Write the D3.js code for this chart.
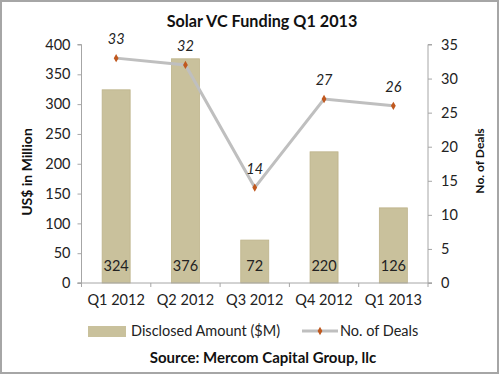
<!DOCTYPE html>
<html><head><meta charset="utf-8">
<script src="https://cdn.jsdelivr.net/npm/d3@7"></script>
<style>body{margin:0;background:#fff}svg{display:block}</style>
</head><body>
<script>
const categories = ["Q1 2012","Q2 2012","Q3 2012","Q4 2012","Q1 2013"];
const amounts = [324, 376, 72, 220, 126];
const deals = [33, 32, 14, 27, 26];
const leftTicks = [0,50,100,150,200,250,300,350,400];
const rightTicks = [0,5,10,15,20,25,30,35];

(function(){
const W = 500, H = 375;
const font = "Lato, 'Open Sans', sans-serif";
const fs = 14.5;
const svg = d3.select("body").append("svg").attr("width", W).attr("height", H);
svg.append("rect").attr("x",1).attr("y",1).attr("width",W-3).attr("height",H-3)
  .attr("fill","#fff").attr("stroke","#a6a6a6").attr("stroke-width",2);

const pL = 81.5, pR = 428, pT = 44.5, pB = 283;
const xb = d3.scaleBand().domain(categories).range([pL, pR]);
const yL = d3.scaleLinear().domain([0,400]).range([pB, pT]);
const yR = d3.scaleLinear().domain([0,35]).range([pB, pT]);

// bars
svg.selectAll(".bar").data(amounts).enter().append("rect")
  .attr("x",(d,i)=>xb(categories[i]) + xb.bandwidth()/2 - 14)
  .attr("width",28)
  .attr("y",d=>yL(d)).attr("height",d=>pB-yL(d))
  .attr("fill","#c9c19c").attr("stroke","#bdb38a").attr("stroke-width",0.8);
svg.selectAll(".blab").data(amounts).enter().append("text")
  .attr("x",(d,i)=>xb(categories[i]) + xb.bandwidth()/2)
  .attr("y",271).attr("text-anchor","middle")
  .attr("font-family",font).attr("font-size",fs).attr("fill","#222").text(d=>d);

// axes
const axL = svg.append("g").attr("transform",`translate(${pL},0)`)
  .call(d3.axisLeft(yL).tickValues(leftTicks).tickSize(4).tickPadding(7));
const axR = svg.append("g").attr("transform",`translate(${pR},0)`)
  .call(d3.axisRight(yR).tickValues(rightTicks).tickSize(4).tickPadding(9));
const axB = svg.append("g").attr("transform",`translate(0,${pB})`)
  .call(d3.axisBottom(xb).tickSize(0).tickPadding(12));
svg.selectAll(".bt").data(d3.range(categories.length+1)).enter().append("line")
  .attr("x1",i=>pL + i*xb.bandwidth()).attr("x2",i=>pL + i*xb.bandwidth())
  .attr("y1",pB).attr("y2",pB+4).attr("stroke","#a6a6a6");
[axL,axR,axB].forEach(a=>{
  a.selectAll("path,line").attr("stroke","#a6a6a6");
  a.selectAll("text").attr("font-family",font).attr("font-size",fs).attr("fill","#222");
});
axL.select(".domain").attr("d",`M-4,${pT}H0V${pB}H-4`);
axR.select(".domain").attr("d",`M4,${pT}H0V${pB}H4`);
axB.select(".domain").attr("d",`M${pL-4},0H${pR+4}`);

// line
const cx = (d,i)=>xb(categories[i]) + xb.bandwidth()/2;
const line = d3.line().x(cx).y(d=>yR(d));
svg.append("path").datum(deals).attr("d",line).attr("fill","none")
  .attr("stroke","#bfbfbf").attr("stroke-width",3);
const sym = d3.symbol().type(d3.symbolDiamond).size(20);
svg.selectAll(".pt").data(deals).enter().append("path").attr("d",sym)
  .attr("transform",(d,i)=>`translate(${cx(d,i)},${yR(d)})`).attr("fill","#c0581e");
svg.selectAll(".plab").data(deals).enter().append("text")
  .attr("x",cx).attr("y",d=>yR(d)-14).attr("text-anchor","middle")
  .attr("font-family",font).attr("font-size",fs).attr("font-style","italic").attr("fill","#222").text(d=>d);

// titles
svg.append("text").attr("x",262).attr("y",27).attr("text-anchor","middle")
  .attr("font-family",font).attr("font-size",16.2).attr("font-weight","bold").attr("fill","#111")
  .text("Solar VC Funding Q1 2013");
svg.append("text").attr("transform",`translate(32,172) rotate(-90)`).attr("text-anchor","middle")
  .attr("font-family",font).attr("font-size",14).attr("font-weight","bold").attr("fill","#111").text("US$ in Million");
svg.append("text").attr("transform",`translate(484,161) rotate(-90)`).attr("text-anchor","middle")
  .attr("font-family",font).attr("font-size",12).attr("font-weight","bold").attr("fill","#111").text("No. of Deals");

// legend
svg.append("rect").attr("x",88).attr("y",326).attr("width",38).attr("height",11).attr("fill","#c9c19c");
svg.append("text").attr("x",131).attr("y",336).attr("font-family",font).attr("font-size",fs).attr("fill","#222").text("Disclosed Amount ($M)");
svg.append("line").attr("x1",302).attr("x2",338).attr("y1",331).attr("y2",331).attr("stroke","#bfbfbf").attr("stroke-width",3);
svg.append("path").attr("d",sym).attr("transform","translate(320,331)").attr("fill","#c0581e");
svg.append("text").attr("x",340).attr("y",336).attr("font-family",font).attr("font-size",fs).attr("fill","#222").text("No. of Deals");

svg.append("text").attr("x",263).attr("y",363).attr("text-anchor","middle")
  .attr("font-family",font).attr("font-size",15).attr("font-weight","bold").attr("fill","#111")
  .text("Source: Mercom Capital Group, llc");
})();
</script>
</body></html>
